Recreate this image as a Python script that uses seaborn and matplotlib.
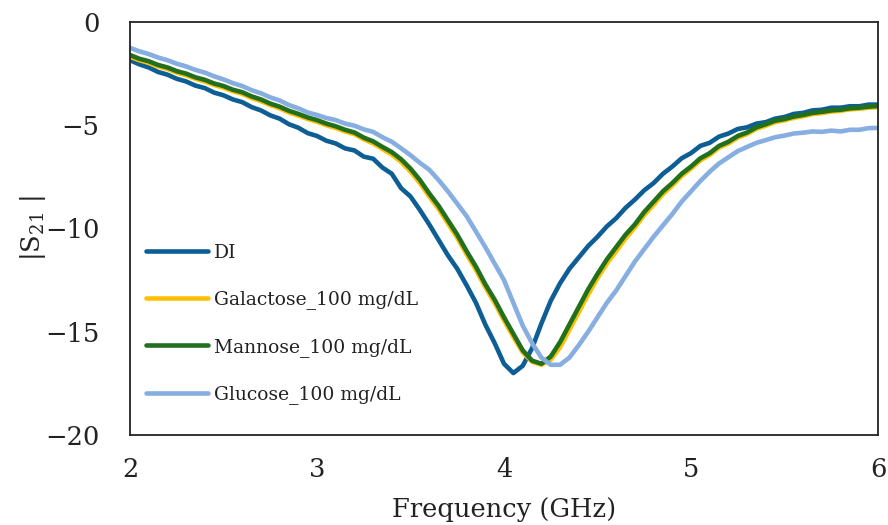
import numpy as np
import pandas as pd
import matplotlib
matplotlib.use("Agg")
import matplotlib.pyplot as plt
import seaborn as sns

freq = [2.00, 2.05, 2.10, 2.15, 2.20, 2.25, 2.30, 2.35, 2.40, 2.45,
        2.50, 2.55, 2.60, 2.65, 2.70, 2.75, 2.80, 2.85, 2.90, 2.95,
        3.00, 3.05, 3.10, 3.15, 3.20, 3.25, 3.30, 3.35, 3.40, 3.45,
        3.50, 3.55, 3.60, 3.65, 3.70, 3.75, 3.80, 3.85, 3.90, 3.95,
        4.00, 4.05, 4.10, 4.15, 4.20, 4.25, 4.30, 4.35, 4.40, 4.45,
        4.50, 4.55, 4.60, 4.65, 4.70, 4.75, 4.80, 4.85, 4.90, 4.95,
        5.00, 5.05, 5.10, 5.15, 5.20, 5.25, 5.30, 5.35, 5.40, 5.45,
        5.50, 5.55, 5.60, 5.65, 5.70, 5.75, 5.80, 5.85, 5.90, 5.95,
        6.00]

di = [-1.85, -2.05, -2.20, -2.42, -2.55, -2.75, -2.88, -3.08, -3.20, -3.42,
      -3.55, -3.75, -3.88, -4.12, -4.28, -4.52, -4.68, -4.95, -5.12, -5.38,
      -5.52, -5.75, -5.88, -6.12, -6.22, -6.52, -6.62, -7.05, -7.35, -8.05,
      -8.45, -9.10, -9.80, -10.55, -11.30, -11.95, -12.75, -13.60, -14.65, -15.55,
      -16.55, -17.00, -16.65, -15.80, -14.60, -13.50, -12.65, -11.95, -11.40, -10.85,
      -10.40, -9.90, -9.50, -9.00, -8.60, -8.15, -7.80, -7.35, -7.00, -6.60,
      -6.35, -6.00, -5.85, -5.55, -5.40, -5.18, -5.10, -4.92, -4.85, -4.68,
      -4.60, -4.45, -4.40, -4.28, -4.25, -4.15, -4.15, -4.08, -4.08, -4.00,
      -4.00]

galactose = [-1.68, -1.85, -1.98, -2.15, -2.28, -2.45, -2.58, -2.75, -2.88, -3.05,
             -3.18, -3.35, -3.48, -3.68, -3.83, -4.02, -4.18, -4.38, -4.53, -4.70,
             -4.83, -5.00, -5.13, -5.30, -5.43, -5.68, -5.88, -6.15, -6.42, -6.78,
             -7.25, -7.80, -8.45, -9.05, -9.75, -10.45, -11.25, -12.00, -12.85, -13.60,
             -14.45, -15.25, -16.00, -16.45, -16.60, -16.35, -15.75, -14.90, -14.05, -13.20,
             -12.40, -11.70, -11.10, -10.48, -9.95, -9.35, -8.85, -8.33, -7.92, -7.46,
             -7.10, -6.70, -6.44, -6.08, -5.88, -5.60, -5.42, -5.17, -5.02, -4.85,
             -4.76, -4.64, -4.56, -4.46, -4.41, -4.34, -4.30, -4.23, -4.20, -4.15,
             -4.12]

mannose = [-1.60, -1.78, -1.90, -2.08, -2.20, -2.38, -2.50, -2.68, -2.80, -2.98,
           -3.10, -3.28, -3.40, -3.60, -3.75, -3.95, -4.10, -4.30, -4.45, -4.62,
           -4.75, -4.92, -5.05, -5.22, -5.35, -5.60, -5.78, -6.05, -6.30, -6.65,
           -7.10, -7.65, -8.30, -8.90, -9.60, -10.30, -11.10, -11.85, -12.70, -13.45,
           -14.30, -15.10, -15.90, -16.40, -16.55, -16.20, -15.50, -14.65, -13.80, -12.95,
           -12.20, -11.50, -10.90, -10.30, -9.80, -9.20, -8.70, -8.20, -7.80, -7.35,
           -7.00, -6.60, -6.35, -6.00, -5.80, -5.52, -5.35, -5.10, -4.95, -4.78,
           -4.70, -4.58, -4.50, -4.40, -4.35, -4.28, -4.25, -4.18, -4.15, -4.10,
           -4.07]

glucose = [-1.25, -1.42, -1.55, -1.72, -1.85, -2.02, -2.15, -2.32, -2.45, -2.63,
           -2.78, -2.96, -3.10, -3.30, -3.45, -3.65, -3.80, -4.02, -4.18, -4.38,
           -4.50, -4.65, -4.75, -4.92, -5.02, -5.20, -5.32, -5.58, -5.80, -6.12,
           -6.45, -6.82, -7.15, -7.65, -8.20, -8.80, -9.40, -10.15, -10.90, -11.70,
           -12.50, -13.60, -14.70, -15.55, -16.25, -16.60, -16.60, -16.25, -15.65, -15.00,
           -14.30, -13.60, -13.00, -12.30, -11.60, -11.00, -10.40, -9.85, -9.30, -8.70,
           -8.20, -7.70, -7.25, -6.85, -6.55, -6.25, -6.05, -5.85, -5.72, -5.58,
           -5.50, -5.40, -5.36, -5.30, -5.32, -5.26, -5.30, -5.22, -5.22, -5.14,
           -5.13]

series_names = ["DI", "Galactose_100 mg/dL", "Mannose_100 mg/dL", "Glucose_100 mg/dL"]
series_colors = ["#0E5E96", "#FFC000", "#22701E", "#86AEE0"]
x_ticks = [2, 3, 4, 5, 6]
y_ticks = [0, -5, -10, -15, -20]

frames = []
for name, vals in zip(series_names, [di, galactose, mannose, glucose]):
    frames.append(pd.DataFrame({"freq": freq, "s21": vals, "series": name}))
df = pd.concat(frames, ignore_index=True)

sns.set_theme(style="white")
plt.rcParams["font.family"] = ["DejaVu Serif"]
plt.rcParams["mathtext.default"] = "regular"

fig = plt.figure(figsize=(8.88, 5.25), dpi=100)
ax = fig.add_axes([130 / 888, 1 - 435 / 525, 748 / 888, 413 / 525])

sns.lineplot(data=df, x="freq", y="s21", hue="series", hue_order=series_names,
             palette=series_colors, linewidth=3.3, estimator=None, sort=False, ax=ax)

ax.set_xlim(2, 6)
ax.set_ylim(-20, 0)
ax.set_xticks(x_ticks)
ax.set_yticks(y_ticks)
ax.tick_params(axis="both", length=0, labelsize=18.5, colors="#222222")
ax.tick_params(axis="y", pad=22)
ax.tick_params(axis="x", pad=16)
for sp in ax.spines.values():
    sp.set_visible(True)
    sp.set_color("#222222")
    sp.set_linewidth(1.3)

ax.set_xlabel("Frequency (GHz)", fontsize=18.5, color="#222222")
ax.xaxis.set_label_coords(0.5, -0.15)
ax.xaxis.label.set_va("top")
ax.set_ylabel("|S$_{21}$ |", fontsize=18.5, color="#222222")
ax.yaxis.set_label_coords(-0.11, 0.5)

handles, labels = ax.get_legend_handles_labels()
leg = ax.legend(handles, labels, loc="center left", bbox_to_anchor=(0.021, 0.269),
                frameon=False, fontsize=13.5, handlelength=3.3, handletextpad=0.35,
                labelspacing=1.52, borderpad=0, borderaxespad=0)
for t in leg.get_texts():
    t.set_color("#222222")
for h in leg.get_lines():
    h.set_linewidth(3.3)

fig.savefig("out.png", dpi=100)
